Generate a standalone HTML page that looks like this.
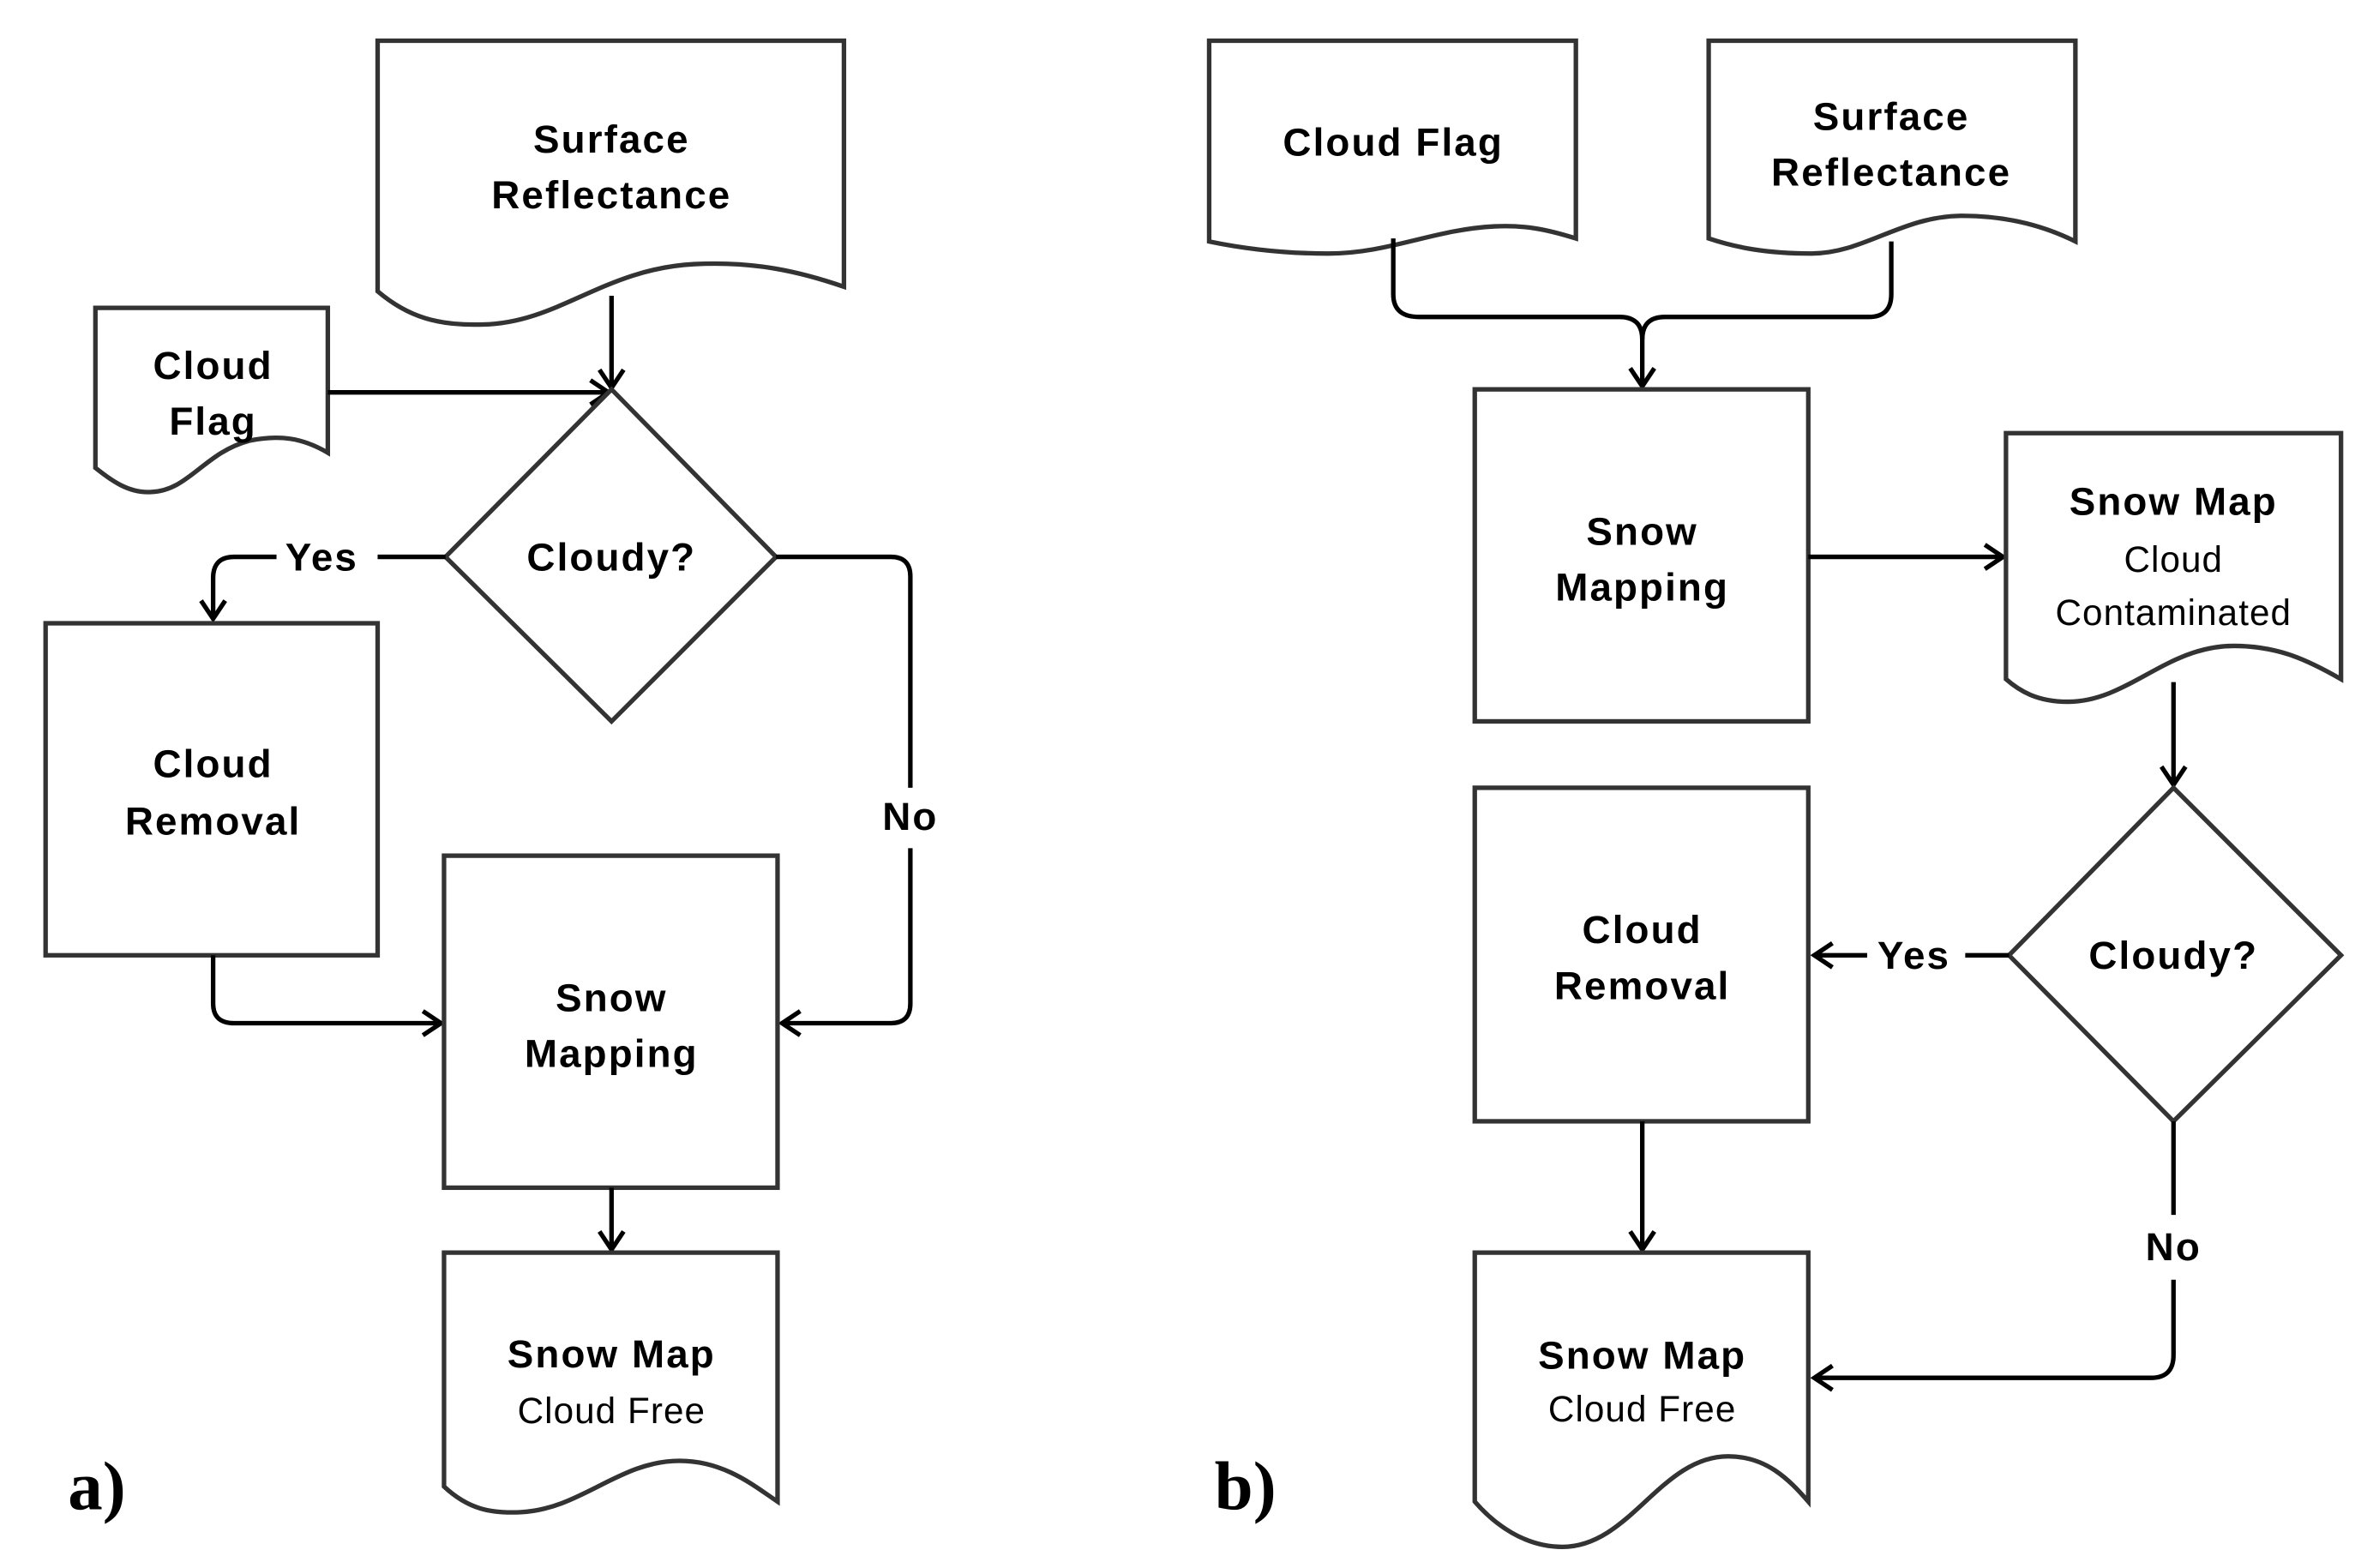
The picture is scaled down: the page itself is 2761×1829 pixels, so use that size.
<!DOCTYPE html>
<html><head><meta charset="utf-8"><style>
html,body{margin:0;padding:0;background:#fff;}
svg{display:block;}
text{font-family:"Liberation Sans",sans-serif;fill:#000;text-anchor:middle;}
.b{font-weight:bold;font-size:26px;letter-spacing:1.2px;}
.r{font-size:24px;letter-spacing:0.6px;}
.s{fill:#fff;stroke:#333;stroke-width:3;}
.c{fill:none;stroke:#000;stroke-width:3;}
</style></head><body>
<svg width="2761" height="1829" viewBox="0 0 1568 1039" xmlns="http://www.w3.org/2000/svg">
<defs>
<marker id="a" markerUnits="userSpaceOnUse" markerWidth="30" markerHeight="30" refX="14" refY="10" orient="auto" viewBox="0 0 30 20">
<path d="M2,2 L14,10 L2,18" fill="none" stroke="#000" stroke-width="3"/>
</marker>
</defs>
<rect width="1568" height="1039" fill="#fff"/>

<!-- ===== a) ===== -->
<path class="s" d="M250,27 H559 V190 C530,180 500,173 460,175 C400,178 370,214 320,215 C290,216 270,210 250,193 Z"/>
<text class="b" x="405" y="101">Surface</text>
<text class="b" x="405" y="138">Reflectance</text>

<path class="s" d="M63,204 H217 V300 C200,290 185,288 165,292 C135,300 125,325 100,326 C85,327 73,318 63,310 Z"/>
<text class="b" x="141" y="251">Cloud</text>
<text class="b" x="141" y="288">Flag</text>

<path class="c" d="M405,196 V257" marker-end="url(#a)"/>
<path class="c" d="M217,260 H403" marker-end="url(#a)"/>

<path class="s" d="M405,258 L514,369 L405,478 L295,369 Z"/>
<text class="b" x="405" y="378">Cloudy?</text>

<path class="c" d="M295,369 H250"/>
<text class="b" x="213" y="378">Yes</text>
<path class="c" d="M183,369 H155 Q141,369 141,383 V410" marker-end="url(#a)"/>

<rect class="s" x="30" y="413" width="220" height="220"/>
<text class="b" x="141" y="515">Cloud</text>
<text class="b" x="141" y="553">Removal</text>

<path class="c" d="M514,369 H590 Q603,369 603,382 V522"/>
<text class="b" x="603" y="550">No</text>
<path class="c" d="M603,562 V665 Q603,678 590,678 H518" marker-end="url(#a)"/>

<path class="c" d="M141,633 V665 Q141,678 155,678 H292" marker-end="url(#a)"/>

<rect class="s" x="294" y="567" width="221" height="220"/>
<text class="b" x="405" y="670">Snow</text>
<text class="b" x="405" y="707">Mapping</text>

<path class="c" d="M405,787 V828" marker-end="url(#a)"/>

<path class="s" d="M294,830 H515 V995 C500,985 480,968 450,968 C410,968 385,1000 345,1002 C325,1003 310,1000 294,985 Z"/>
<text class="b" x="405" y="906">Snow Map</text>
<text class="r" x="405" y="943">Cloud Free</text>

<text x="64" y="1000" style="font-family:'Liberation Serif',serif;font-weight:bold;font-size:46px;">a)</text>

<!-- ===== b) ===== -->
<path class="s" d="M801,27 H1044 V158 C1025,152 1010,149 990,150 C950,152 920,168 880,168 C850,168 825,165 801,160 Z"/>
<text class="b" x="923" y="103">Cloud Flag</text>

<path class="s" d="M1132,27 H1375 V160 C1355,150 1330,143 1300,143 C1260,143 1235,168 1200,168 C1170,168 1150,164 1132,158 Z"/>
<text class="b" x="1253" y="86">Surface</text>
<text class="b" x="1253" y="123">Reflectance</text>

<path class="c" d="M923,158 V195 Q923,210 940,210 H1073 Q1088,210 1088,225 V256" marker-end="url(#a)"/>
<path class="c" d="M1253,160 V195 Q1253,210 1238,210 H1103 Q1088,210 1088,225"/>

<rect class="s" x="977" y="258" width="221" height="220"/>
<text class="b" x="1088" y="361">Snow</text>
<text class="b" x="1088" y="398">Mapping</text>

<path class="c" d="M1198,369 H1327" marker-end="url(#a)"/>

<path class="s" d="M1329,287 H1551 V450 C1530,438 1510,428 1480,428 C1435,428 1410,465 1370,465 C1350,465 1338,458 1329,450 Z"/>
<text class="b" x="1440" y="341">Snow Map</text>
<text class="r" x="1440" y="379">Cloud</text>
<text class="r" x="1440" y="414">Contaminated</text>

<path class="c" d="M1440,452 V520" marker-end="url(#a)"/>

<path class="s" d="M1440,522 L1551,633 L1440,743 L1331,633 Z"/>
<text class="b" x="1440" y="642">Cloudy?</text>

<path class="c" d="M1331,633 H1302"/>
<text class="b" x="1268" y="642">Yes</text>
<path class="c" d="M1237,633 H1202" marker-end="url(#a)"/>

<rect class="s" x="977" y="522" width="221" height="221"/>
<text class="b" x="1088" y="625">Cloud</text>
<text class="b" x="1088" y="662">Removal</text>

<path class="c" d="M1088,743 V828" marker-end="url(#a)"/>

<path class="c" d="M1440,743 V805"/>
<text class="b" x="1440" y="835">No</text>
<path class="c" d="M1440,848 V898 Q1440,913 1425,913 H1202" marker-end="url(#a)"/>

<path class="s" d="M977,830 H1198 V995 C1185,980 1170,965 1145,965 C1100,965 1080,1025 1035,1025 C1010,1025 990,1010 977,995 Z"/>
<text class="b" x="1088" y="907">Snow Map</text>
<text class="r" x="1088" y="942">Cloud Free</text>

<text x="825" y="1000" style="font-family:'Liberation Serif',serif;font-weight:bold;font-size:46px;">b)</text>
</svg>
</body></html>
